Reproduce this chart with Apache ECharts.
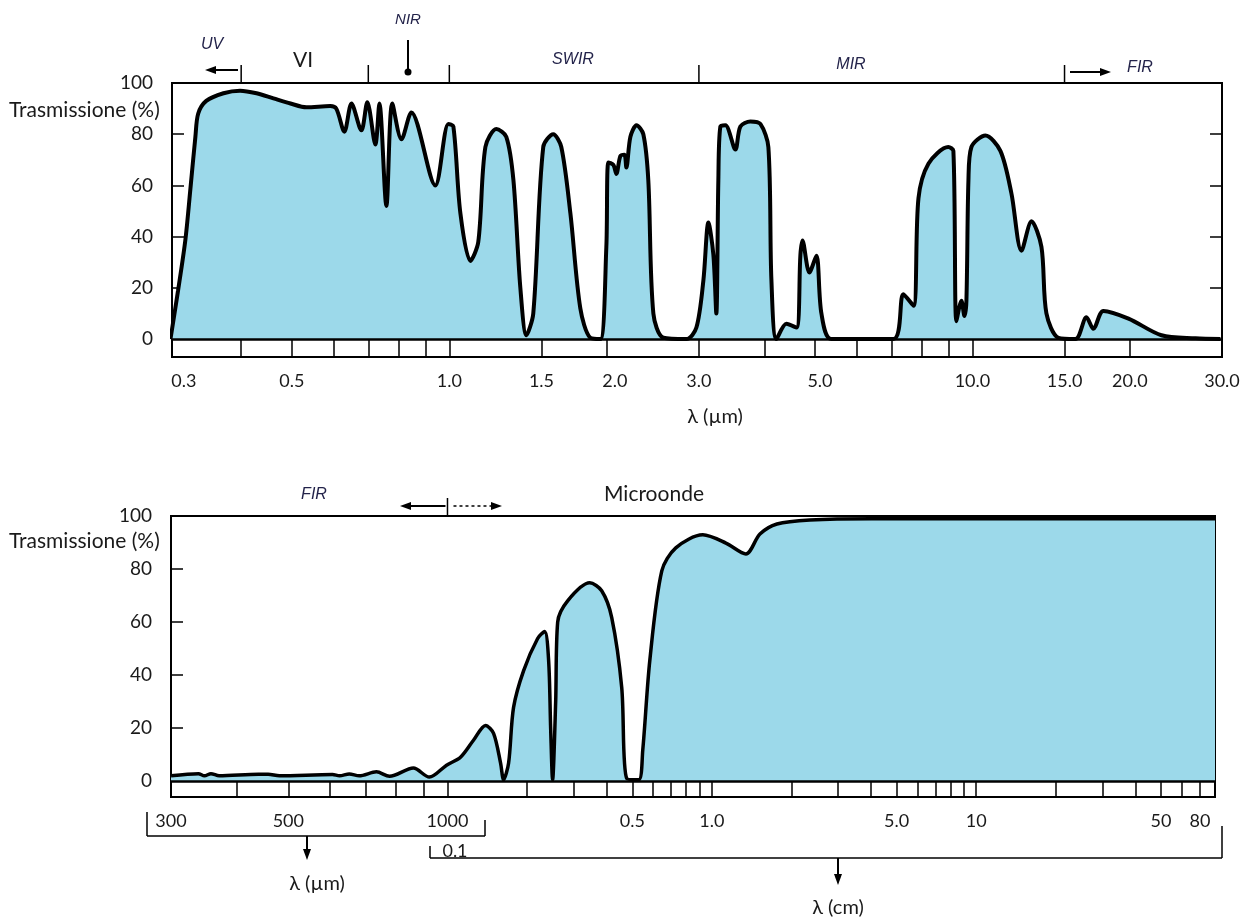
<!DOCTYPE html>
<html><head><meta charset="utf-8">
<script src="https://cdn.jsdelivr.net/npm/echarts@6.0.0/dist/echarts.min.js"></script>
<style>html,body{margin:0;padding:0;background:#fff}#c{width:1248px;height:922px}</style>
</head><body><div id="c"></div>
<script>
// ---------- DATA ----------
// Top panel: wavelength (µm) and transmission (%)
const topWavelength = [0.293,0.303,0.313,0.320,0.327,0.331,0.343,0.370,0.398,0.428,0.461,0.497,0.533,0.592,0.608,0.630,0.650,0.679,0.697,0.722,0.735,0.758,0.778,0.810,0.846,0.940,0.996,1.018,1.050,1.097,1.136,1.172,1.230,1.285,1.326,1.367,1.404,1.447,1.512,1.580,1.637,1.704,1.780,1.860,1.944,1.996,2.014,2.059,2.086,2.123,2.161,2.180,2.219,2.279,2.349,2.401,2.455,2.566,2.839,2.967,3.060,3.128,3.197,3.239,3.268,3.297,3.371,3.523,3.601,3.763,3.932,4.073,4.128,4.220,4.410,4.609,4.690,4.732,4.879,5.032,5.144,5.375,7.063,7.379,7.715,7.886,8.239,8.995,9.196,9.319,9.528,9.654,9.739,9.826,9.956,10.59,11.31,11.87,12.41,12.97,13.55,13.85,14.60,15.74,16.52,17.03,17.80,19.88,22.98,26.70,29.80];
const topTransmission = [0,19,39,59,79,88,93,96,97,96,94,92,90.5,91,90,81,92,81.5,92.5,76,92,52,92,78,88.5,60,84,83,49,30.5,38,75,82,79,62,20,1.5,10,75,80,75,49,12,0.5,0,36,69,68,64.5,71.5,72,67,79,83.5,80,62,10,0.5,0,4.5,23,45.5,33,10,62,83,83.5,74,83,85,84,75,23,0,6,4.5,33,38.5,26,32.5,10,0,0,17.5,13,55,68.5,75,73.5,7,15,9,15,62,75,79.5,73.5,57,34.5,46,36,10,0.5,0,8.5,4,11,8,1.5,0.3,0];
// Bottom panel: wavelength (µm) and transmission (%)
const bottomWavelength = [300,338,347,357,370,439,458,481,606,625,652,681,734,777,862,924,996,1120,1254,1393,1494,1588,1630,1703,1778,1941,2193,2330,2413,2456,2498,2566,2611,2848,3451,3831,4181,4561,4764,5290,5478,5825,6466,7305,9245,11300,13450,15200,17630,23500,40030,800000];
const bottomTransmission = [2,2.8,2,2.8,2,2.6,2.6,2,2.5,2,2.7,2,3.5,1.8,4.9,1.5,6,9,15.4,21,18,6.8,0.5,6.8,27.8,41.7,53.8,56.4,45.5,20,0.5,30,60,68,74.8,71.8,61.7,35.3,1,0.5,11.7,45.5,79.3,88,92.9,89.8,85.7,93.2,97,98.5,99,99];
// Ticks / labels
const yTickValues = [0,20,40,60,80,100];
const yInnerTicks = [20,40,60,80];
const topTickValues = [0.3,0.5,1,1.5,2,3,5,10,15,20,30];
const topTickLabels = ['0.3','0.5','1.0','1.5','2.0','3.0','5.0','10.0','15.0','20.0','30.0'];
const topStripTicks = [0.4,0.5,0.6,0.7,0.8,0.9,1,1.5,2,3,4,5,6,7,8,9,10,15,20];
const topRegionBounds = [0.4,0.7,1.0,3.0,15];
const bottomTickValues = [300,500,1000,5000,10000,50000,100000,500000,800000]; // µm
const bottomTickLabels = ['300','500','1000','0.5','1.0','5.0','10','50','80'];
const bottomStripTicks = [400,500,600,700,800,900,1000,2000,3000,4000,5000,6000,7000,8000,9000,10000,20000,30000,40000,50000,60000,70000,80000,90000,100000,200000,300000,400000,500000,600000,700000];

// ---------- SCALES (log, piecewise for the bottom panel) ----------
const topPos = v => Math.log10(v);
const botPos = v => v < 1000 ? 2 * Math.log10(v / 1000) : Math.log10(v / 1000);

// label style shifts (px) to mimic hand placement
const topShift = {'0.3': 8, '2.0': 8, '5.0': 5};
const botShift = {'80': -15};

const FONT = 'Lato, "Open Sans", sans-serif';
const TXT = '#1a1a1a';

function labelCfg(values, labels, posFn, shifts) {
  const pos = values.map(posFn);
  const rich = {};
  labels.forEach((l, i) => {
    const s = shifts[l] || 0;
    rich['l' + i] = {fontSize: 18, fontFamily: FONT, color: TXT,
      padding: s >= 0 ? [0, 0, 0, 2 * s] : [0, -2 * s, 0, 0]};
  });
  return {
    show: true, customValues: pos, margin: 15,
    formatter: v => { const i = pos.findIndex(p => Math.abs(p - v) < 1e-6); return i < 0 ? '' : '{l' + i + '|' + labels[i] + '}'; },
    rich: rich
  };
}

function yAxes(gridIndex, min) {
  return [{
    type: 'value', gridIndex, min, max: 100, position: 'left',
    axisLine: {show: false, onZero: false}, splitLine: {show: false},
    axisTick: {show: true, inside: true, length: 12, customValues: yInnerTicks, lineStyle: {color: '#000', width: 1.5}},
    axisLabel: {show: true, customValues: yTickValues, margin: 19, fontSize: 19, fontFamily: FONT, color: TXT}
  }, {
    type: 'value', gridIndex, min, max: 100, position: 'right',
    axisLine: {show: false, onZero: false}, splitLine: {show: false}, axisLabel: {show: false},
    axisTick: {show: true, inside: true, length: 12, customValues: yInnerTicks, lineStyle: {color: '#000', width: 1.5}}
  }];
}

const zeroLine = {
  silent: true, symbol: ['none', 'none'], label: {show: false}, animation: false,
  lineStyle: {color: '#000', width: 2.5, type: 'solid'}, data: [{yAxis: 0}]
};

const chart = echarts.init(document.getElementById('c'), null, {renderer: 'canvas'});
chart.setOption({
  animation: false,
  backgroundColor: '#fff',
  grid: [
    {left: 172, right: 26, top: 83, height: 274, show: true, borderColor: '#000', borderWidth: 2, outerBoundsMode: 'none'},
    {left: 171, right: 33, top: 516, height: 281, show: true, borderColor: '#000', borderWidth: 2, outerBoundsMode: 'none'}
  ],
  xAxis: [{
    type: 'value', gridIndex: 0, min: topPos(0.295), max: topPos(30),
    splitLine: {show: false},
    axisLine: {show: true, onZero: false, lineStyle: {color: '#000', width: 2}},
    axisTick: {show: true, inside: true, length: 18, customValues: topStripTicks.map(topPos), lineStyle: {color: '#000', width: 1.5}},
    axisLabel: labelCfg(topTickValues, topTickLabels, topPos, topShift)
  }, {
    type: 'value', gridIndex: 1, min: botPos(300), max: botPos(800000),
    splitLine: {show: false},
    axisLine: {show: true, onZero: false, lineStyle: {color: '#000', width: 2}},
    axisTick: {show: true, inside: true, length: 16, customValues: bottomStripTicks.map(botPos), lineStyle: {color: '#000', width: 1.5}},
    axisLabel: labelCfg(bottomTickValues, bottomTickLabels, botPos, botShift)
  }],
  yAxis: [...yAxes(0, -7), ...yAxes(1, -6)],
  series: [{
    type: 'line', xAxisIndex: 0, yAxisIndex: 0,
    data: topWavelength.map((w, i) => [topPos(w), topTransmission[i]]),
    symbol: 'none', smooth: 0.3,
    lineStyle: {color: '#000', width: 4}, areaStyle: {color: '#9cd9ea', opacity: 1},
    markLine: zeroLine, z: 3
  }, {
    type: 'line', xAxisIndex: 1, yAxisIndex: 2,
    data: bottomWavelength.map((w, i) => [botPos(w), bottomTransmission[i]]),
    symbol: 'none', smooth: 0.3,
    lineStyle: {color: '#000', width: 3.5}, areaStyle: {color: '#9cd9ea', opacity: 1},
    markLine: zeroLine, z: 3
  }]
});

// ---------- ANNOTATIONS ----------
const g = [];
const ls = {stroke: '#000', lineWidth: 1.5};
function line(x1, y1, x2, y2, extra) { g.push({type: 'line', shape: {x1, y1, x2, y2}, style: Object.assign({}, ls, extra || {}), z: 10}); }
function arrow(x1, y, x2, dashed) {
  const dir = x2 > x1 ? 1 : -1;
  line(x1, y, x2 - dir * 8, y, dashed ? {lineDash: [3, 3]} : {lineWidth: 2});
  g.push({type: 'polygon', shape: {points: [[x2, y], [x2 - dir * 11, y - 4], [x2 - dir * 11, y + 4]]}, style: {fill: '#000'}, z: 10});
}
function vArrow(x, y1, y2) {
  line(x, y1, x, y2 - 8, {lineWidth: 2});
  g.push({type: 'polygon', shape: {points: [[x, y2], [x - 4, y2 - 11], [x + 4, y2 - 11]]}, style: {fill: '#000'}, z: 10});
}
function text(x, y, t, opt) {
  opt = opt || {};
  g.push({type: 'text', x, y, z: 10, style: {text: t, fill: opt.color || TXT, font: (opt.italic ? 'italic ' : '') + (opt.size || 20) + 'px ' + (opt.family || FONT), align: opt.align || 'center', verticalAlign: 'middle'}});
}
const it = {italic: true, size: 16, family: '"Liberation Sans", Arial, sans-serif', color: '#23234a'};

// top panel
topRegionBounds.forEach(b => { const p = chart.convertToPixel({xAxisIndex: 0, yAxisIndex: 0}, [topPos(b), 100]); line(p[0], 65, p[0], 83); });
text(212, 45, 'UV', it);
arrow(238, 70, 205);
text(303, 60, 'VI', {size: 21});
text(408, 20, 'NIR', Object.assign({}, it, {size: 15}));
line(408, 40, 408, 70, {lineWidth: 2});
g.push({type: 'circle', shape: {cx: 408, cy: 72, r: 3.5}, style: {fill: '#000'}, z: 10});
text(573, 60, 'SWIR', it);
text(851, 65, 'MIR', it);
text(1140, 68, 'FIR', it);
arrow(1070, 72, 1111);
text(9, 110, 'Trasmissione (%)', {align: 'left', size: 21});
text(715, 417, 'λ (µm)');

// bottom panel
text(9, 541, 'Trasmissione (%)', {align: 'left', size: 21});
text(314, 495, 'FIR', it);
text(654, 494, 'Microonde', {size: 21});
const b1000 = chart.convertToPixel({xAxisIndex: 1, yAxisIndex: 2}, [botPos(1000), 100])[0];
line(b1000, 498, b1000, 516);
arrow(b1000 - 2, 506, 400);
arrow(b1000 + 6, 506, 502, true);
// µm bracket
line(147, 812, 147, 836); line(485, 820, 485, 836); line(147, 836, 485, 836);
vArrow(307, 836, 860);
text(317, 884, 'λ (µm)');
// cm bracket
line(430, 846, 430, 858); line(1222, 826, 1222, 858); line(430, 858, 1222, 858);
text(455, 851, '0.1', {size: 18});
vArrow(838, 858, 885);
text(838, 908, 'λ (cm)');

chart.setOption({graphic: g});
</script></body></html>
